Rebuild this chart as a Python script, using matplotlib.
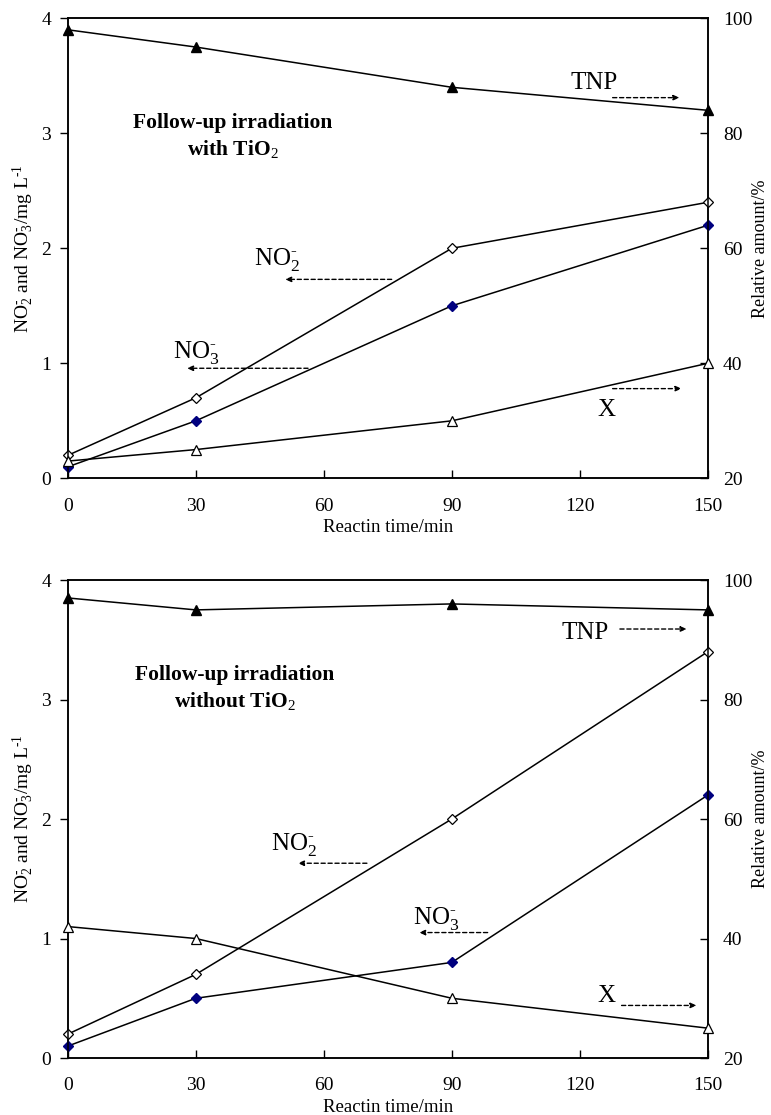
import matplotlib
matplotlib.use("Agg")
import matplotlib.pyplot as plt

plt.rcParams['font.family'] = ['Liberation Serif', 'DejaVu Serif']
plt.rcParams['mathtext.fontset'] = 'custom'
plt.rcParams['mathtext.rm'] = 'Liberation Serif'
plt.rcParams['mathtext.it'] = 'Liberation Serif:italic'
plt.rcParams['mathtext.bf'] = 'Liberation Serif:bold'

# reaction time, min
time = [0, 30, 90, 150]

# top panel: with TiO2
no2_with = [0.2, 0.7, 2.0, 2.4]
no3_with = [0.1, 0.5, 1.5, 2.2]
tnp_with = [98, 95, 88, 84]
x_with = [23, 25, 30, 40]

# bottom panel: without TiO2
no2_without = [0.2, 0.7, 2.0, 3.4]
no3_without = [0.1, 0.5, 0.8, 2.2]
tnp_without = [97, 95, 96, 95]
x_without = [42, 40, 30, 25]

titles = ["Follow-up irradiation\nwith TiO$_2$", "Follow-up irradiation\nwithout TiO$_2$"]

NO2 = "NO$_2^{\\text{-}}$"
NO3 = "NO$_3^{\\text{-}}$"

# label positions: text x, text y, arrow tail x, arrow head x, arrow y (left-axis units)
labels_top = {
    "TNP": (123.3, 3.44, 127.7, 143.4, 3.31),
    NO2: (49.0, 1.90, 75.9, 50.9, 1.73),
    NO3: (30.2, 1.09, 56.3, 27.9, 0.957),
    "X": (126.3, 0.59, 127.7, 143.9, 0.78),
}
labels_bottom = {
    "TNP": (121.2, 3.56, 129.4, 145.1, 3.59),
    NO2: (53.0, 1.79, 70.1, 53.9, 1.63),
    NO3: (86.3, 1.17, 98.4, 82.3, 1.05),
    "X": (126.3, 0.52, 129.8, 147.4, 0.44),
}
title_pos = [(38.7, 2.97), (39.1, 3.09)]


def draw_panel(ax, no2, no3, tnp, xx, title, tpos, labels):
    ax2 = ax.twinx()
    ax.plot(time, no2, color='k', lw=1.1, marker='D', ms=5, mfc='white',
            mec='k', mew=0.9, clip_on=False, zorder=5)
    ax.plot(time, no3, color='k', lw=1.1, marker='D', ms=5.5, mfc='#00007f',
            mec='#00007f', clip_on=False, zorder=5)
    ax2.plot(time, tnp, color='k', lw=1.1, marker='^', ms=7.5, mfc='k',
             mec='k', clip_on=False, zorder=5)
    ax2.plot(time, xx, color='k', lw=1.1, marker='^', ms=6.5, mfc='white',
             mec='k', mew=0.9, clip_on=False, zorder=5)

    ax.set_xlim(0, 150)
    ax.set_ylim(0, 4)
    ax2.set_ylim(20, 100)
    ax.set_xticks([0, 30, 60, 90, 120, 150])
    ax.set_yticks([0, 1, 2, 3, 4])
    ax2.set_yticks([20, 40, 60, 80, 100])
    ax.tick_params(axis='x', direction='in', length=6, width=1, pad=14, labelsize=14)
    ax.tick_params(axis='y', direction='out', length=6, width=1, pad=6, labelsize=14)
    ax2.tick_params(axis='y', direction='in', length=6, width=1, pad=11, labelsize=14)
    for sp in list(ax.spines.values()) + list(ax2.spines.values()):
        sp.set_linewidth(1.1)

    ax.set_xlabel("Reactin time/min", fontsize=13.5, labelpad=3)
    ax.set_ylabel("NO$_2^{\\text{-}}$ and NO$_3^{\\text{-}}$/mg L$^{\\text{-1}}$",
                  fontsize=14, labelpad=4)
    ax2.set_ylabel("Relative amount/%", fontsize=13, labelpad=0)

    ax.text(tpos[0], tpos[1], title, ha='center', va='center', fontsize=15.5,
            fontweight='bold', linespacing=1.3)

    for name, (tx, ty, x0, x1, ay) in labels.items():
        ax.text(tx, ty, name, ha='center', va='center', fontsize=18)
        ax.annotate('', xy=(x1, ay), xytext=(x0, ay),
                    arrowprops=dict(arrowstyle='-|>,head_length=0.35,head_width=0.15',
                                    linestyle=(0, (3, 2)), lw=1, color='k',
                                    shrinkA=0, shrinkB=0))


fig = plt.figure(figsize=(7.71, 11.15), dpi=100)
ax_top = fig.add_axes([0.088, 0.571, 0.830, 0.4126])
ax_bot = fig.add_axes([0.088, 0.0511, 0.830, 0.4287])

draw_panel(ax_top, no2_with, no3_with, tnp_with, x_with, titles[0], title_pos[0], labels_top)
draw_panel(ax_bot, no2_without, no3_without, tnp_without, x_without, titles[1], title_pos[1], labels_bottom)

fig.savefig("out.png", dpi=100)
